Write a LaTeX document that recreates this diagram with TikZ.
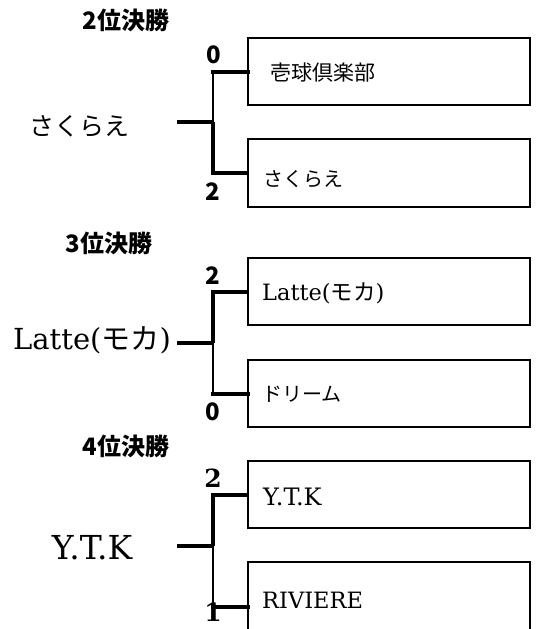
\documentclass[tikz,border=0pt]{standalone}
\usepackage{fontspec}
\setmainfont{DejaVu Serif}
\newfontfamily\jp{Noto Sans CJK JP}
\newcommand{\fs}[1]{\fontsize{#1}{#1}\selectfont}
\begin{document}
\begin{tikzpicture}[x=1pt,y=-1pt,
  box/.style={draw, line width=2pt, minimum width=282pt, minimum height=67pt, inner sep=0pt, outer sep=0pt, anchor=north west},
  thk/.style={line width=4pt},
  thn/.style={line width=2pt},
  hdr/.style={inner sep=0pt, font=\jp\bfseries\fs{24}},
  score/.style={inner sep=0pt, font=\jp\bfseries\fs{24}},
  scoreserif/.style={inner sep=0pt, font=\bfseries\fs{25}},
  bigjp/.style={inner sep=0pt, font=\jp\fs{25}},
  bigl/.style={inner sep=0pt, font=\fs{29}},
  btxt/.style={inner sep=0pt, anchor=west}]
\useasboundingbox (0,0) rectangle (539,629);

% headers
\node[hdr] (h1) at (126,20) {2位決勝};
\node[hdr] (h2) at (109,243) {3位決勝};
\node[hdr] (h3) at (126,446) {4位決勝};

% boxes
\node[box] (b1) at (248,38) {};
\node[box, minimum height=68pt] (b2) at (248,139) {};
\node[box] (b3) at (248,258) {};
\node[box] (b4) at (248,360) {};
\node[box] (b5) at (248,461) {};
\node[box, minimum height=90pt] (b6) at (248,562) {};

% box texts
\node[btxt, font=\jp\fs{21}] (t1) at (270,73) {壱球倶楽部};
\node[btxt, font=\jp\fs{20}] (t2) at (263,179) {さくらえ};
\node[btxt, font=\fs{22.5}] (t3) at (262,293) {Latte({\jp モカ})};
\node[btxt, font=\jp\fs{20}] (t4) at (262,394) {ドリーム};
\node[btxt, font=\fs{24}] (t5) at (263,497) {Y.T.K};
\node[btxt, font=\fs{22.5}] (t6) at (262,600) {RIVIERE};

% winners
\node[bigjp] (w1) at (79,126) {さくらえ};
\node[bigl] (w2) at (92,340) {Latte({\jp モカ})};
\node[bigl, font=\fs{33}] (w3) at (92,548) {Y.T.K};

% scores
\node[score] (s1a) at (214,55) {0};
\node[score] (s1b) at (213,192) {2};
\node[score] (s2a) at (213,276) {2};
\node[score] (s2b) at (213,412) {0};
\node[scoreserif] (s3a) at (213,478) {2};
\node[scoreserif] (s3b) at (213,612) {1};

% bracket 1 (bottom wins)
\coordinate (a1) at (177,122);
\coordinate (j1) at (213,122);
\draw[thk] (a1) -- (j1);
\draw[thn] (j1) -- (j1 |- b1.west);
\draw[thk] (j1) |- (b2.west);
\draw[thk, line cap=rect] (j1 |- b1.west) -- (b1.west);

% bracket 2 (top wins)
\coordinate (a2) at (177,342.5);
\coordinate (j2) at (213,342.5);
\draw[thk] (a2) -- (j2);
\draw[thk] (j2) |- (b3.west);
\draw[thn] (j2) -- (j2 |- b4.west);
\draw[thk, line cap=rect] (j2 |- b4.west) -- (b4.west);

% bracket 3 (top wins)
\coordinate (a3) at (177,546);
\coordinate (j3) at (213,546);
\draw[thk] (a3) -- (j3);
\draw[thk] (j3) |- (b5.west);
\draw[thn] (j3) -- (j3 |- b6.west);
\draw[thk, line cap=rect] (j3 |- b6.west) -- (b6.west);
\end{tikzpicture}
\end{document}
